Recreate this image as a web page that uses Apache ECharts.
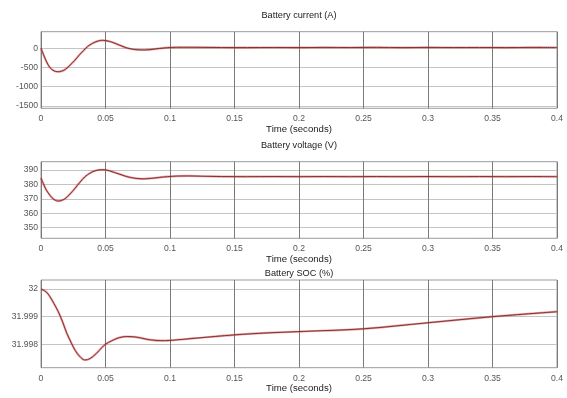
<!DOCTYPE html>
<html>
<head>
<meta charset="utf-8">
<script src="https://cdn.jsdelivr.net/npm/echarts@6/dist/echarts.min.js"></script>
<style>
  html, body { margin: 0; padding: 0; background: #fff; }
  #chart { width: 567px; height: 398px; }
</style>
</head>
<body>
<div id="chart"></div>
<script>
// Battery current (A) vs time (s)
const currentT = [0, 0.002, 0.004, 0.007, 0.010, 0.013, 0.016, 0.019, 0.0225, 0.026, 0.030, 0.033, 0.036, 0.040, 0.044, 0.047, 0.050, 0.054, 0.058, 0.062, 0.066, 0.070, 0.075, 0.080, 0.086, 0.092, 0.098, 0.105, 0.115, 0.125, 0.14, 0.16, 0.18, 0.20, 0.22, 0.24, 0.26, 0.28, 0.30, 0.32, 0.34, 0.36, 0.38, 0.40];
const currentA = [0, -170, -330, -505, -585, -610, -595, -545, -440, -320, -165, -60, 40, 130, 185, 205, 200, 170, 120, 65, 15, -20, -40, -45, -30, -5, 15, 25, 25, 22, 19, 18, 20, 18, 21, 19, 22, 18, 21, 19, 20, 18, 21, 19];

// Battery voltage (V) vs time (s)
const voltageT = [0, 0.002, 0.004, 0.007, 0.010, 0.013, 0.016, 0.019, 0.0225, 0.026, 0.030, 0.034, 0.038, 0.042, 0.046, 0.049, 0.053, 0.057, 0.062, 0.066, 0.070, 0.075, 0.080, 0.086, 0.092, 0.098, 0.105, 0.115, 0.125, 0.14, 0.16, 0.18, 0.20, 0.22, 0.24, 0.26, 0.28, 0.30, 0.32, 0.34, 0.36, 0.38, 0.40];
const voltageV = [384.4, 380.2, 376.3, 372.4, 369.6, 368.5, 368.9, 370.4, 373.4, 376.9, 381.3, 385.3, 387.9, 389.5, 390.2, 390.2, 389.5, 388.3, 386.8, 385.6, 384.7, 384.1, 383.9, 384.3, 384.9, 385.4, 385.8, 385.9, 385.7, 385.5, 385.4, 385.5, 385.4, 385.5, 385.4, 385.5, 385.4, 385.5, 385.4, 385.5, 385.4, 385.5, 385.4];

// Battery SOC (%) vs time (s)
const socT = [0, 0.004, 0.007, 0.010, 0.0134, 0.017, 0.020, 0.0235, 0.0265, 0.030, 0.034, 0.038, 0.043, 0.047, 0.050, 0.055, 0.060, 0.066, 0.072, 0.078, 0.085, 0.093, 0.100, 0.12, 0.15, 0.175, 0.20, 0.25, 0.30, 0.35, 0.40];
const socPct = [32.0000, 31.99990, 31.99972, 31.99948, 31.99918, 31.99878, 31.99840, 31.99805, 31.99778, 31.99756, 31.99743, 31.99748, 31.99767, 31.99787, 31.99800, 31.99813, 31.99823, 31.99828, 31.99827, 31.99822, 31.99816, 31.99813, 31.99814, 31.99822, 31.99834, 31.99841, 31.99846, 31.99856, 31.99878, 31.99900, 31.99918];

// Axis ticks
const timeTicks = { min: 0, max: 0.4, step: 0.05 };
const currentTicks = [-1500, -1000, -500, 0];
const voltageTicks = [350, 360, 370, 380, 390];
const socTicks = [31.998, 31.999, 32];

// Plot titles and axis name
const titles = ['Battery current (A)', 'Battery voltage (V)', 'Battery SOC (%)'];
const xName = 'Time (seconds)';

const zip = (xs, ys) => xs.map((x, i) => [x, ys[i]]);

const FONT = '"Liberation Sans", Arial, sans-serif';
const gridBoxes = [
  { top: 31.7, height: 76.6, titleY: 15 },
  { top: 161.7, height: 76.6, titleY: 145 },
  { top: 280, height: 87.7, titleY: 273 }
];
const yRanges = [
  { min: -1560, max: 430, ticks: currentTicks, fmt: v => String(v) },
  { min: 342.6, max: 395.8, ticks: voltageTicks, fmt: v => String(v) },
  { min: 31.99715, max: 32.00033, ticks: socTicks, fmt: v => String(+(+v).toFixed(3)) }
];
const seriesData = [zip(currentT, currentA), zip(voltageT, voltageV), zip(socT, socPct)];

const grid = gridBoxes.map(b => ({
  left: 41, right: 10, top: b.top, height: b.height,
  show: true, borderColor: '#9a9a9a', borderWidth: 1, backgroundColor: '#fff'
}));

const xAxis = gridBoxes.map((b, i) => ({
  type: 'value', gridIndex: i,
  min: timeTicks.min, max: timeTicks.max, interval: timeTicks.step,
  name: xName, nameLocation: 'middle', nameGap: 16,
  nameTextStyle: { fontFamily: FONT, fontSize: 9.6, color: '#222' },
  axisLine: { show: false },
  axisTick: { show: false },
  axisLabel: { fontFamily: FONT, fontSize: 8.6, color: '#555', margin: 6, formatter: v => String(+(+v).toFixed(2)) },
  splitLine: { show: true, lineStyle: { color: '#7a7a7a', width: 1 } }
}));

const yAxis = yRanges.map((r, i) => ({
  type: 'value', gridIndex: i, min: r.min, max: r.max,
  axisLine: { show: false },
  axisTick: { show: false, customValues: r.ticks },
  axisLabel: { fontFamily: FONT, fontSize: 8.6, color: '#555', margin: 3, customValues: r.ticks, formatter: r.fmt },
  splitLine: { show: true, lineStyle: { color: '#c4c4c4', width: 1 } }
}));

const series = [];
seriesData.forEach((d, i) => {
  // red trace with a dark core
  series.push({
    type: 'line', xAxisIndex: i, yAxisIndex: i, data: d, smooth: 0.35,
    showSymbol: false, silent: true, color: '#e03c3c',
    lineStyle: { color: 'rgba(225, 60, 60, 0.5)', width: 2.2 }
  });
  series.push({
    type: 'line', xAxisIndex: i, yAxisIndex: i, data: d, smooth: 0.35,
    showSymbol: false, silent: true, color: '#6b2a2a',
    lineStyle: { color: '#6b2a2a', width: 0.9 }
  });
});

const graphic = gridBoxes.map((b, i) => ({
  type: 'text', x: 299, y: b.titleY,
  style: { text: titles[i], fontFamily: FONT, fontSize: 9.2, fill: '#222', textAlign: 'center', textVerticalAlign: 'middle' }
}));

const chart = echarts.init(document.getElementById('chart'), null, { renderer: 'canvas' });
chart.setOption({ animation: false, grid, xAxis, yAxis, series, graphic });
</script>
</body>
</html>
